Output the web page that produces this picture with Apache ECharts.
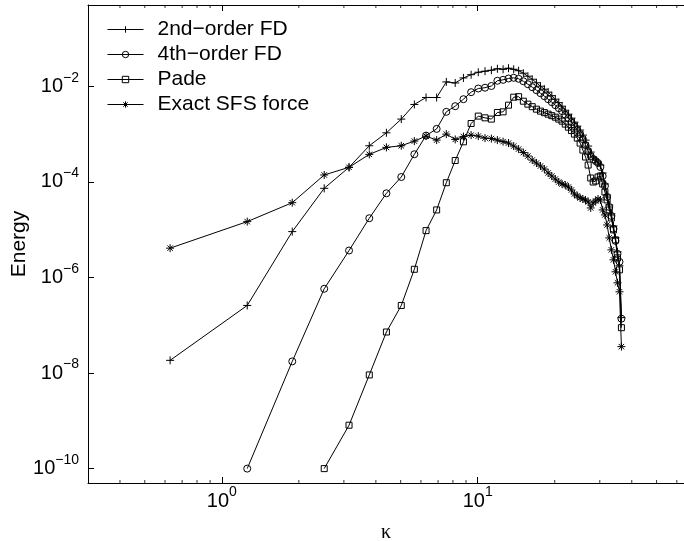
<!DOCTYPE html>
<html><head><meta charset="utf-8">
<script src="https://cdn.jsdelivr.net/npm/echarts@6/dist/echarts.min.js"></script>
<style>html,body{margin:0;padding:0;background:#fff}#c{width:684px;height:541px}</style>
</head><body><div id="c"></div>
<script>
// wavenumbers
const kappa = [0.628,1.257,1.885,2.513,3.142,3.770,4.398,5.027,5.655,6.283,
  6.912,7.540,8.168,8.796,9.425,10.053,10.681,11.310,11.938,12.566,
  13.195,13.823,14.451,15.080,15.708,16.336,16.965,17.593,18.221,18.850,
  19.478,20.106,20.735,21.363,21.991,22.619,23.248,23.876,24.504,25.133,
  25.761,26.389,27.018,27.646,28.274,28.903,29.531,30.159,30.788,31.416,
  32.044,32.673,33.301,33.929,34.558,35.186,35.814,36.442];

const fd2 = [1.84e-8,2.59e-7,9.08e-6,7.31e-5,2.01e-4,5.68e-4,1.06e-3,2.05e-3,4.15e-3,5.81e-3,
  5.8e-3,1.23e-2,1.17e-2,1.49e-2,1.74e-2,1.96e-2,2.06e-2,2.16e-2,2.32e-2,2.26e-2,
  2.38e-2,2.26e-2,2.11e-2,1.87e-2,1.62e-2,1.40e-2,1.18e-2,1.0e-2,8.66e-3,7.50e-3,
  6.34e-3,5.35e-3,4.53e-3,3.82e-3,3.15e-3,2.60e-3,2.15e-3,1.77e-3,1.46e-3,1.21e-3,
  9.48e-4,7.46e-4,5.59e-4,4.19e-4,3.30e-4,2.85e-4,2.59e-4,2.24e-4,1.53e-4,9.0e-5,
  5.30e-5,3.28e-5,2.13e-5,1.19e-5,6.71e-6,3.42e-6,1.75e-6,1.44e-7];

const fd4 = [null,1e-10,1.75e-8,5.78e-7,3.65e-6,1.73e-5,5.75e-5,1.26e-4,3.77e-4,9.26e-4,
  1.28e-3,2.91e-3,3.82e-3,5.35e-3,7.50e-3,8.95e-3,9.31e-3,1.01e-2,1.30e-2,1.36e-2,
  1.45e-2,1.50e-2,1.43e-2,1.27e-2,1.10e-2,9.53e-3,8.25e-3,7.14e-3,6.18e-3,5.35e-3,
  4.63e-3,4.01e-3,3.47e-3,3.01e-3,2.54e-3,2.15e-3,1.77e-3,1.46e-3,1.21e-3,9.96e-4,
  7.83e-4,5.86e-4,4.40e-4,3.46e-4,2.99e-4,2.72e-4,2.47e-4,2.04e-4,1.32e-4,8.17e-5,
  4.82e-5,2.98e-5,1.93e-5,1.04e-5,5.81e-6,3.11e-6,2.12e-6,1.37e-7];

const pade = [null,null,null,1e-10,8.09e-10,9.12e-9,7.21e-8,2.59e-7,1.48e-6,9.53e-6,
  2.58e-5,9.57e-5,2.79e-4,6.87e-4,1.66e-3,2.37e-3,2.18e-3,2.05e-3,2.82e-3,2.91e-3,
  4.01e-3,5.89e-3,6.04e-3,4.86e-3,4.21e-3,3.73e-3,3.31e-3,3.01e-3,2.80e-3,2.60e-3,
  2.42e-3,2.25e-3,2.05e-3,1.86e-3,1.61e-3,1.39e-3,1.18e-3,9.96e-4,8.21e-4,6.46e-4,
  4.61e-4,3.30e-4,2.24e-4,1.20e-4,9.9e-5,1.04e-4,1.26e-4,1.32e-4,9.0e-5,6.12e-5,
  4.17e-5,2.58e-5,1.75e-5,9.86e-6,6.10e-6,2.56e-6,1.44e-6,8.87e-8];

const sfs = [4.09e-6,1.47e-5,3.66e-5,1.39e-4,2.01e-4,3.75e-4,5.25e-4,5.68e-4,7.11e-4,9.04e-4,
  7.46e-4,9.96e-4,7.71e-4,8.83e-4,9.48e-4,9.04e-4,8.21e-4,8.02e-4,7.46e-4,6.93e-4,
  6.46e-4,5.59e-4,4.84e-4,4.09e-4,3.46e-4,2.85e-4,2.47e-4,2.14e-4,1.85e-4,1.53e-4,
  1.32e-4,1.14e-4,9.9e-5,9.0e-5,8.57e-5,7.78e-5,6.75e-5,5.56e-5,5.06e-5,4.59e-5,
  4.38e-5,4.17e-5,3.79e-5,2.84e-5,3.61e-5,3.97e-5,4.38e-5,4.17e-5,2.58e-5,2.03e-5,
  1.25e-5,6.71e-6,3.77e-6,2.33e-6,1.31e-6,7.71e-7,5.0e-7,3.56e-8];

const seriesNames = ['2nd\u2212order FD','4th\u2212order FD','Pade','Exact SFS force'];
const xMinorTicks = [0.4,0.5,0.6,0.7,0.8,0.9,2,3,4,5,6,7,8,9,20,30,40,50,60];
const xRange = [0.3, 64];
const yRange = [5e-11, 0.5];

const pairs = vals => kappa.map((k, i) => [k, vals[i]]).filter(p => p[1] != null);

const FONT = 'Liberation Sans, Arial, sans-serif';
const plusSym = 'path://M5,0L5,10M0,5L10,5';
const starSym = 'path://M5,0L5,10M0,5L10,5M1.6,1.6L8.4,8.4M8.4,1.6L1.6,8.4';

function powLabel(v) {
  const e = Math.round(Math.log10(v));
  return '{b|10}{s|' + String(e).replace('-', '\u2212') + '}';
}
const richLab = {
  b: {fontFamily: FONT, fontSize: 20, lineHeight: 20, color: '#000'},
  s: {fontFamily: FONT, fontSize: 14, lineHeight: 14, color: '#000', padding: [0, 0, 17, 0]}
};

function lineSeries(name, vals, symbol, size) {
  return {
    name: name, type: 'line', data: pairs(vals),
    symbol: symbol, symbolSize: size, showAllSymbol: true,
    lineStyle: {color: '#000', width: 1},
    itemStyle: {color: 'rgba(0,0,0,0)', borderColor: '#000', borderWidth: 1},
    emphasis: {disabled: true}, animation: false
  };
}

const chart = echarts.init(document.getElementById('c'), null, {renderer: 'canvas'});
chart.setOption({
  backgroundColor: '#fff',
  animation: false,
  grid: {left: 88, top: 5, right: 0, bottom: 58, containLabel: false, outerBoundsMode: 'none'},
  legend: {
    left: 102, top: 14, orient: 'vertical', padding: 5,
    itemWidth: 36, itemHeight: 8, itemGap: 4,
    lineStyle: {width: 1, color: '#000'},
    itemStyle: {borderWidth: 1, borderColor: '#000'},
    textStyle: {fontFamily: FONT, fontSize: 21, lineHeight: 21, color: '#000', padding: [0, 0, 0, 9]},
    data: seriesNames, selectedMode: false
  },
  xAxis: [{
    type: 'log', min: xRange[0], max: xRange[1],
    name: '\u03ba', nameLocation: 'middle', nameGap: 40, nameMoveOverlap: false,
    nameTextStyle: {fontFamily: 'Liberation Serif, serif', fontSize: 20, color: '#000'},
    axisLine: {show: true, lineStyle: {color: '#000', width: 1}},
    axisTick: {show: true, inside: true, length: 6, lineStyle: {color: '#000'}},
    axisLabel: {formatter: powLabel, rich: richLab, margin: 8, showMinLabel: false, showMaxLabel: false},
    splitLine: {show: false}, minorTick: {show: false}
  }, {
    type: 'log', min: xRange[0], max: xRange[1], position: 'top',
    axisLine: {show: true, lineStyle: {color: '#000', width: 1}},
    axisTick: {show: true, inside: true, length: 6, lineStyle: {color: '#000'}},
    axisLabel: {show: false}, splitLine: {show: false}
  }],
  yAxis: {
    type: 'log', logBase: 100, min: yRange[0], max: yRange[1],
    name: 'Energy', nameLocation: 'middle', nameGap: 58, nameMoveOverlap: false,
    nameTextStyle: {fontFamily: FONT, fontSize: 21, color: '#000'},
    axisLine: {show: true, lineStyle: {color: '#000', width: 1}},
    axisTick: {show: true, inside: true, length: 6, lineStyle: {color: '#000'}},
    axisLabel: {formatter: powLabel, rich: richLab, margin: 9, showMinLabel: false, showMaxLabel: false},
    splitLine: {show: false}
  },
  series: [
    lineSeries(seriesNames[0], fd2, plusSym, 8),
    lineSeries(seriesNames[1], fd4, 'circle', 7),
    lineSeries(seriesNames[2], pade, 'rect', 6),
    lineSeries(seriesNames[3], sfs, starSym, 8),
    {
      type: 'scatter', silent: true, xAxisIndex: 0,
      data: xMinorTicks.map(v => [v, yRange[0]]),
      symbol: 'rect', symbolSize: [1, 3], symbolOffset: [0, -1.5],
      itemStyle: {color: '#000'}, clip: false
    },
    {
      type: 'scatter', silent: true, xAxisIndex: 0,
      data: xMinorTicks.map(v => [v, yRange[1]]),
      symbol: 'rect', symbolSize: [1, 3], symbolOffset: [0, 1.5],
      itemStyle: {color: '#000'}, clip: false
    }
  ]
});
</script></body></html>
